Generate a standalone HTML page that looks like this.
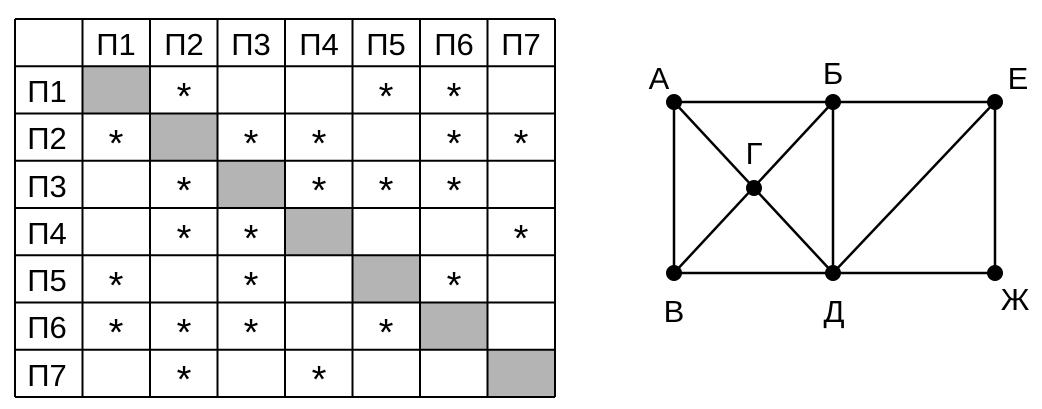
<!DOCTYPE html>
<html><head><meta charset="utf-8"><style>body{margin:0;background:#fff}svg{display:block}</style></head><body>
<svg width="1042" height="409" viewBox="0 0 1042 409" xmlns="http://www.w3.org/2000/svg" font-family="Liberation Sans, sans-serif">
<g fill="#b4b4b4">
<rect x="82.5" y="66.25" width="67.5" height="47.25"/>
<rect x="150" y="113.5" width="67.5" height="47.25"/>
<rect x="217.5" y="160.75" width="67.5" height="47.25"/>
<rect x="285" y="208" width="67.5" height="47.25"/>
<rect x="352.5" y="255.25" width="67.5" height="47.25"/>
<rect x="420" y="302.5" width="67.5" height="47.25"/>
<rect x="487.5" y="349.75" width="67.5" height="47.25"/>
</g>
<g stroke="#000" stroke-width="2">
<line x1="15" y1="19" x2="555" y2="19"/><line x1="15" y1="66.25" x2="555" y2="66.25"/>
<line x1="15" y1="113.5" x2="555" y2="113.5"/><line x1="15" y1="160.75" x2="555" y2="160.75"/>
<line x1="15" y1="208" x2="555" y2="208"/><line x1="15" y1="255.25" x2="555" y2="255.25"/>
<line x1="15" y1="302.5" x2="555" y2="302.5"/><line x1="15" y1="349.75" x2="555" y2="349.75"/>
<line x1="15" y1="397" x2="555" y2="397"/>
<line x1="15" y1="19" x2="15" y2="397"/><line x1="82.5" y1="19" x2="82.5" y2="397"/>
<line x1="150" y1="19" x2="150" y2="397"/><line x1="217.5" y1="19" x2="217.5" y2="397"/>
<line x1="285" y1="19" x2="285" y2="397"/><line x1="352.5" y1="19" x2="352.5" y2="397"/>
<line x1="420" y1="19" x2="420" y2="397"/><line x1="487.5" y1="19" x2="487.5" y2="397"/>
<line x1="555" y1="19" x2="555" y2="397"/>
</g>
<g font-size="31" text-anchor="middle">
<text x="116" y="55">П1</text><text x="184" y="55">П2</text><text x="251" y="55">П3</text><text x="319" y="55">П4</text><text x="386" y="55">П5</text><text x="454" y="55">П6</text><text x="521" y="55">П7</text>
<text x="47" y="102">П1</text><text x="47" y="149">П2</text><text x="47" y="197">П3</text><text x="47" y="244">П4</text><text x="47" y="291">П5</text><text x="47" y="338">П6</text><text x="47" y="386">П7</text>
</g>
<g font-size="38" text-anchor="middle">
<text x="184" y="109">*</text><text x="386" y="109">*</text><text x="454" y="109">*</text>
<text x="116" y="156">*</text><text x="251" y="156">*</text><text x="319" y="156">*</text><text x="454" y="156">*</text><text x="521" y="156">*</text>
<text x="184" y="203">*</text><text x="319" y="203">*</text><text x="386" y="203">*</text><text x="454" y="203">*</text>
<text x="184" y="251">*</text><text x="251" y="251">*</text><text x="521" y="251">*</text>
<text x="116" y="298">*</text><text x="251" y="298">*</text><text x="454" y="298">*</text>
<text x="116" y="345">*</text><text x="184" y="345">*</text><text x="251" y="345">*</text><text x="386" y="345">*</text>
<text x="184" y="392">*</text><text x="319" y="392">*</text>
</g>
<g stroke="#000" stroke-width="2.5">
<line x1="674" y1="102" x2="995" y2="102"/><line x1="674" y1="273" x2="995" y2="273"/>
<line x1="674" y1="102" x2="674" y2="273"/><line x1="833" y1="102" x2="833" y2="273"/><line x1="995" y1="102" x2="995" y2="273"/>
<line x1="674" y1="102" x2="833" y2="273"/><line x1="833" y1="102" x2="674" y2="273"/>
<line x1="995" y1="102" x2="833" y2="273"/>
</g>
<g fill="#000">
<circle cx="674" cy="102" r="8"/><circle cx="833" cy="102" r="8"/><circle cx="995" cy="102" r="8"/>
<circle cx="754" cy="188" r="8"/>
<circle cx="674" cy="273" r="8"/><circle cx="833" cy="273" r="8"/><circle cx="995" cy="273" r="8"/>
</g>
<g font-size="31" text-anchor="middle">
<text x="659" y="89">А</text><text x="833" y="84">Б</text><text x="1018" y="89">Е</text>
<text x="754" y="164">Г</text>
<text x="674" y="322">В</text><text x="834" y="322">Д</text><text x="1015" y="310">Ж</text>
</g>
</svg>
</body></html>
